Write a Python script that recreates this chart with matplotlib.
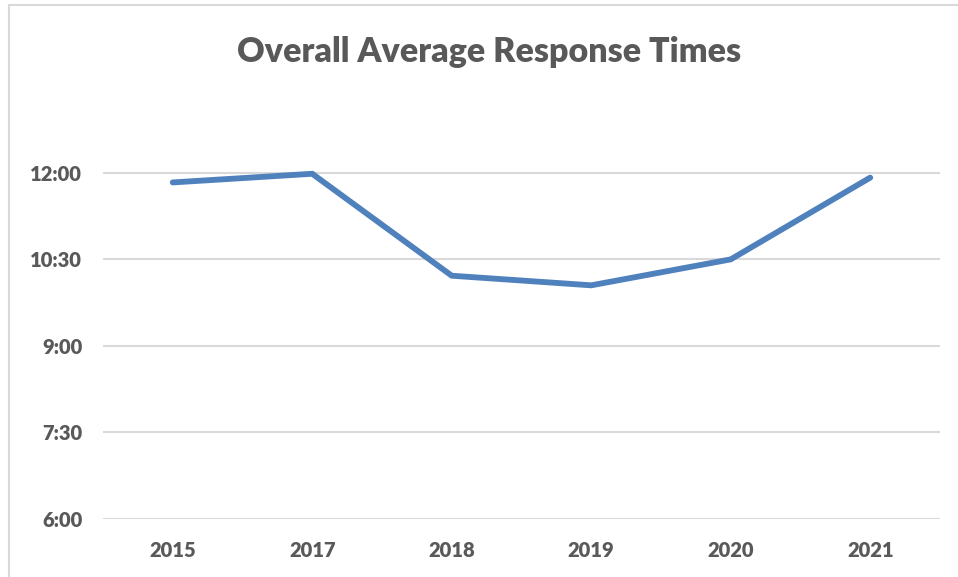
import matplotlib.pyplot as plt
from matplotlib.lines import Line2D

# Данные: годы и среднее время отклика (в минутах от полуночи, мм:сс -> минуты)
years = ['2015', '2017', '2018', '2019', '2020', '2021']
response_min = [11 * 60 + 50, 11 * 60 + 59, 10 * 60 + 13, 10 * 60 + 3, 10 * 60 + 30, 11 * 60 + 55]
y_ticks = [6 * 60, 7 * 60 + 30, 9 * 60, 10 * 60 + 30, 12 * 60]
y_labels = ['6:00', '7:30', '9:00', '10:30', '12:00']

text_color = '#595959'
plt.rcParams['font.family'] = ['Lato', 'DejaVu Sans']

fig = plt.figure(figsize=(9.58, 5.77), dpi=100)
ax = fig.add_axes([0.1075, 0.1005, 0.8737, 0.70])

x = list(range(len(years)))
ax.plot(x, response_min, color='#4F81BD', linewidth=4.2, solid_capstyle='round',
        solid_joinstyle='miter', zorder=3)

ax.set_xlim(-0.5, len(years) - 0.5)
ax.set_ylim(360, 780)
ax.set_xticks(x)
ax.set_xticklabels(years)
ax.set_yticks(y_ticks)
ax.set_yticklabels(y_labels)

for lbl in ax.get_xticklabels() + ax.get_yticklabels():
    lbl.set_fontweight('heavy')
    lbl.set_color(text_color)
    lbl.set_fontsize(14.5)

ax.tick_params(axis='both', length=0)
ax.tick_params(axis='y', pad=15)
ax.tick_params(axis='x', pad=16)
ax.grid(axis='y', color='#D9D9D9', linewidth=1.5)
ax.set_axisbelow(True)
for s in ax.spines.values():
    s.set_visible(False)

fig.text(0.511, 0.910, 'Overall Average Response Times', ha='center', va='center',
         fontsize=24.5, fontweight='heavy', color=text_color)

# Рамка области диаграммы (видны только верх и левый край)
fig.add_artist(Line2D([8.5 / 958, 1.0], [1 - 4.5 / 577, 1 - 4.5 / 577],
                      color='#D9D9D9', linewidth=1.5, transform=fig.transFigure))
fig.add_artist(Line2D([8.5 / 958, 8.5 / 958], [0.0, 1 - 4.5 / 577],
                      color='#D9D9D9', linewidth=1.5, transform=fig.transFigure))

plt.savefig('out.png', dpi=100, facecolor='white')
